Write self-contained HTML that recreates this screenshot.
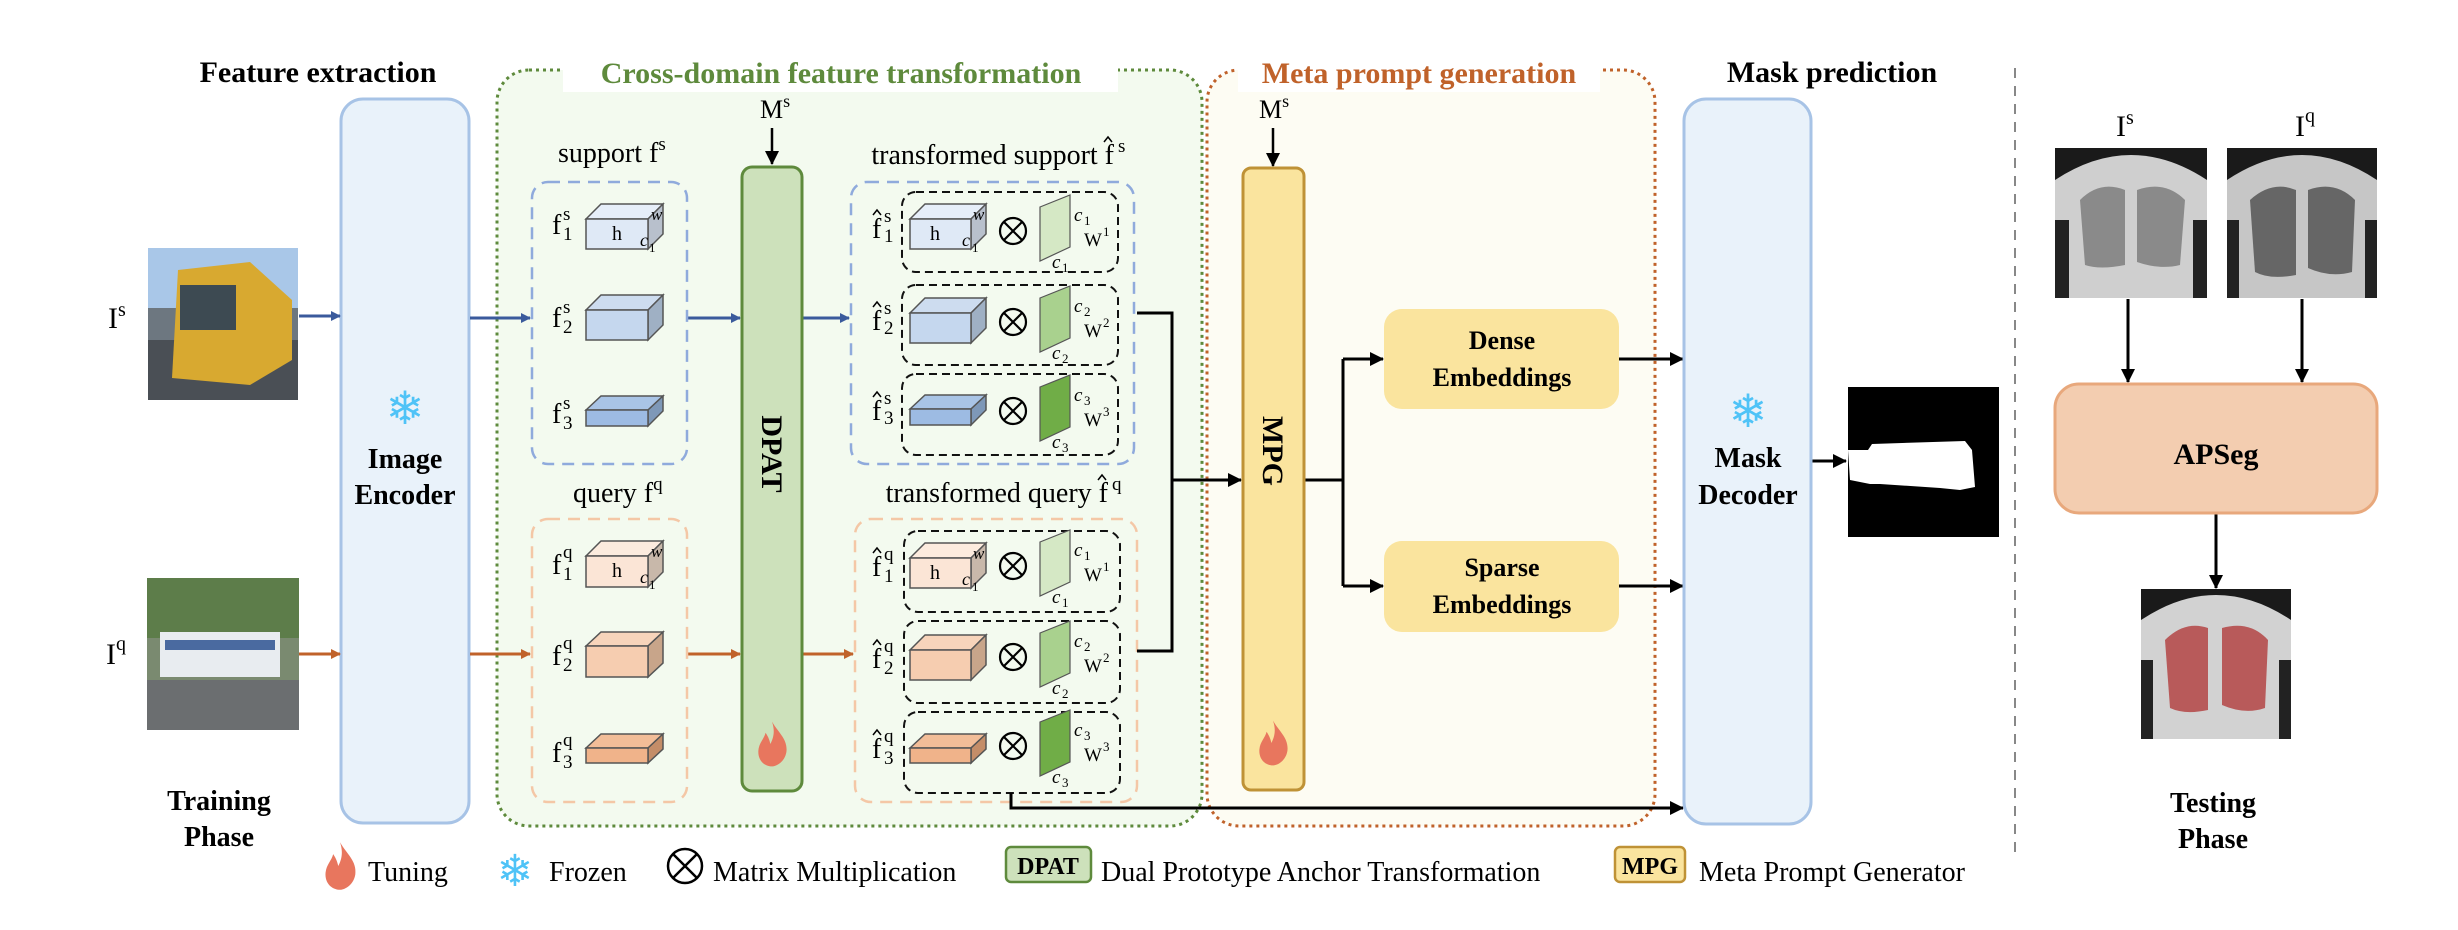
<!DOCTYPE html>
<html><head><meta charset="utf-8"><style>
html,body{margin:0;padding:0;background:#fff;}
svg{display:block;}
svg text{font-family:"Liberation Serif","DejaVu Serif",serif;}
.b{font-weight:bold;}
</style></head><body>
<svg width="2458" height="930" viewBox="0 0 2458 930" xmlns="http://www.w3.org/2000/svg" font-family="Liberation Serif, serif">
<defs>
<marker id="ab" markerWidth="10" markerHeight="10" refX="9" refY="5" orient="auto" markerUnits="userSpaceOnUse" viewBox="0 0 10 10"><path d="M0,0L10,5L0,10z" fill="#3a5a9c"/></marker>
<marker id="ao" markerWidth="10" markerHeight="10" refX="9" refY="5" orient="auto" markerUnits="userSpaceOnUse" viewBox="0 0 10 10"><path d="M0,0L10,5L0,10z" fill="#c0622a"/></marker>
<marker id="ak" markerWidth="14" markerHeight="14" refX="13" refY="7" orient="auto" markerUnits="userSpaceOnUse" viewBox="0 0 14 14"><path d="M0,0L14,7L0,14z" fill="#000"/></marker>
<g id="fire"><path d="M0,-28 C8,-14 20,-6 18,10 C16,22 6,28 0,28 C-10,28 -18,20 -17,8 C-16,-2 -10,-6 -8,-14 C-4,-8 -3,-4 -2,0 C2,-8 4,-16 0,-28z" fill="#e8765e"/></g>
</defs>

<text x="318" y="82" font-size="30" class="b" text-anchor="middle">Feature extraction</text>

<rect x="497" y="70" width="705" height="756" rx="32" fill="#f3faef" stroke="#5e8a3c" stroke-width="3" stroke-dasharray="3,4"/>
<rect x="1207" y="70" width="448" height="756" rx="32" fill="#fdfcf3" stroke="#c0622a" stroke-width="3" stroke-dasharray="3,4"/>
<rect x="563" y="58" width="555" height="34" fill="#fff"/>
<text x="841" y="83" font-size="30" class="b" fill="#5e8a3c" text-anchor="middle">Cross-domain feature transformation</text>
<rect x="1238" y="58" width="362" height="34" fill="#fff"/>
<text x="1419" y="83" font-size="30" class="b" fill="#c0622a" text-anchor="middle">Meta prompt generation</text>
<text x="1832" y="82" font-size="30" class="b" text-anchor="middle">Mask prediction</text>

<rect x="341" y="99" width="128" height="724" rx="22" fill="#e9f2fa" stroke="#a7c3e6" stroke-width="3"/>
<text x="405" y="424" font-size="46" fill="#4fc3f7" text-anchor="middle" style="font-family:'DejaVu Sans',sans-serif">❄</text>
<text x="405" y="468" font-size="28" class="b" text-anchor="middle">Image</text>
<text x="405" y="504" font-size="28" class="b" text-anchor="middle">Encoder</text>

<g>
<rect x="148" y="248" width="150" height="152" fill="#6d7780"/>
<rect x="148" y="248" width="150" height="60" fill="#a9c7e8"/>
<rect x="148" y="340" width="150" height="60" fill="#4a4f55"/>
<polygon points="178,270 250,262 292,300 292,360 250,385 172,378" fill="#d8a930"/>
<rect x="180" y="285" width="56" height="45" fill="#3d4a52"/>
</g>
<text x="108" y="328" font-size="30">I<tspan font-size="20" dy="-12">s</tspan></text>
<g>
<rect x="147" y="578" width="152" height="152" fill="#7a8a70"/>
<rect x="147" y="578" width="152" height="60" fill="#5d7d4a"/>
<rect x="147" y="680" width="152" height="50" fill="#6b6e70"/>
<rect x="160" y="632" width="120" height="45" fill="#e8ecf0"/>
<rect x="165" y="640" width="110" height="10" fill="#4a6aa0"/>
</g>
<text x="106" y="664" font-size="30">I<tspan font-size="20" dy="-14">q</tspan></text>

<g stroke="#3a5a9c" stroke-width="3" fill="none" marker-end="url(#ab)">
<line x1="299" y1="316" x2="340" y2="316"/>
<line x1="470" y1="318" x2="530" y2="318"/>
<line x1="688" y1="318" x2="740" y2="318"/>
<line x1="802" y1="318" x2="849" y2="318"/>
</g>
<g stroke="#c0622a" stroke-width="3" fill="none" marker-end="url(#ao)">
<line x1="299" y1="654" x2="340" y2="654"/>
<line x1="470" y1="654" x2="530" y2="654"/>
<line x1="688" y1="654" x2="740" y2="654"/>
<line x1="802" y1="654" x2="853" y2="654"/>
</g>

<text x="558" y="162" font-size="28">support f<tspan font-size="19" dy="-12">s</tspan></text>
<rect x="532" y="182" width="155" height="282" rx="16" fill="none" stroke="#8faadc" stroke-width="2.5" stroke-dasharray="12,8"/>
<text x="573" y="502" font-size="28">query f<tspan font-size="19" dy="-12">q</tspan></text>
<rect x="532" y="519" width="155" height="283" rx="16" fill="none" stroke="#f4c7a6" stroke-width="2.5" stroke-dasharray="12,8"/>

<g stroke="#555" stroke-width="1.5">
<polygon points="586,219 601,204 663,204 648,219" fill="#e6eef9"/><polygon points="648,219 663,204 663,234 648,249" fill="#b8c0cc"/><rect x="586" y="219" width="62" height="30" fill="#dfe9f6"/>
<polygon points="586,310 601,295 663,295 648,310" fill="#cddcef"/><polygon points="648,310 663,295 663,325 648,340" fill="#9fb0c4"/><rect x="586" y="310" width="62" height="30" fill="#c5d7ee"/>
<polygon points="586,410 601,396 663,396 648,410" fill="#a9c4e6"/><polygon points="648,410 663,396 663,411 648,426" fill="#7e98b8"/><rect x="586" y="410" width="62" height="16" fill="#9dbbe3"/>
<polygon points="586,556 601,541 663,541 648,556" fill="#fcebde"/><polygon points="648,556 663,541 663,572 648,587" fill="#c8b8aa"/><rect x="586" y="556" width="62" height="31" fill="#fbe5d6"/>
<polygon points="586,646 601,632 663,632 648,646" fill="#f7d4bb"/><polygon points="648,646 663,632 663,663 648,677" fill="#c8a58a"/><rect x="586" y="646" width="62" height="31" fill="#f6cdb0"/>
<polygon points="586,748 601,734 663,734 648,748" fill="#f2bd98"/><polygon points="648,748 663,734 663,749 648,763" fill="#c48d68"/><rect x="586" y="748" width="62" height="15" fill="#f0b38a"/>
</g>
<text x="612" y="240" font-size="20">h</text><text x="651" y="220" font-size="17" font-style="italic">w</text><text x="640" y="246" font-size="18" font-style="italic">c</text><text x="649" y="252" font-size="13">1</text>
<text x="612" y="577" font-size="20">h</text><text x="651" y="557" font-size="17" font-style="italic">w</text><text x="640" y="583" font-size="18" font-style="italic">c</text><text x="649" y="589" font-size="13">1</text>

<g font-size="28">
<text x="552" y="234">f</text><text x="552" y="327">f</text><text x="552" y="423">f</text>
<text x="552" y="574">f</text><text x="552" y="665">f</text><text x="552" y="762">f</text>
</g>
<g font-size="19">
<text x="563" y="220">s</text><text x="563" y="240">1</text>
<text x="563" y="313">s</text><text x="563" y="333">2</text>
<text x="563" y="409">s</text><text x="563" y="429">3</text>
<text x="563" y="558">q</text><text x="563" y="580">1</text>
<text x="563" y="649">q</text><text x="563" y="671">2</text>
<text x="563" y="746">q</text><text x="563" y="768">3</text>
</g>

<line x1="772" y1="128" x2="772" y2="164" stroke="#000" stroke-width="2.5" marker-end="url(#ak)"/>
<text x="760" y="118" font-size="26">M<tspan font-size="18" dy="-11">s</tspan></text>
<rect x="742" y="167" width="60" height="624" rx="10" fill="#cde1bb" stroke="#5e8a3c" stroke-width="3"/>
<text transform="translate(772,454) rotate(90)" font-size="30" class="b" text-anchor="middle" dy="10">DPAT</text>
<use href="#fire" transform="translate(772,744) scale(0.8)"/>

<text x="1114" y="164" font-size="28" text-anchor="end">transformed support f</text>
<path d="M1104,142 L1108,137 L1112,142" fill="none" stroke="#000" stroke-width="1.5"/>
<text x="1118" y="152" font-size="19">s</text>
<rect x="851" y="182" width="283" height="282" rx="16" fill="none" stroke="#8faadc" stroke-width="2.5" stroke-dasharray="12,8"/>
<text x="1108" y="502" font-size="28" text-anchor="end">transformed query f</text>
<path d="M1098,480 L1102,475 L1106,480" fill="none" stroke="#000" stroke-width="1.5"/>
<text x="1112" y="490" font-size="19">q</text>
<rect x="855" y="519" width="282" height="283" rx="16" fill="none" stroke="#f4c7a6" stroke-width="2.5" stroke-dasharray="12,8"/>

<g fill="none" stroke="#111" stroke-width="2" stroke-dasharray="8,5">
<rect x="902" y="192" width="216" height="80" rx="14"/>
<rect x="902" y="285" width="216" height="80" rx="14"/>
<rect x="902" y="374" width="216" height="81" rx="14"/>
<rect x="904" y="531" width="216" height="81" rx="14"/>
<rect x="904" y="621" width="216" height="82" rx="14"/>
<rect x="904" y="712" width="216" height="81" rx="14"/>
</g>

<g stroke="#555" stroke-width="1.5">
<polygon points="910,219 925,204 986,204 971,219" fill="#e6eef9"/><polygon points="971,219 986,204 986,234 971,249" fill="#b8c0cc"/><rect x="910" y="219" width="61" height="30" fill="#dfe9f6"/>
<polygon points="910,313 925,298 986,298 971,313" fill="#cddcef"/><polygon points="971,313 986,298 986,328 971,343" fill="#9fb0c4"/><rect x="910" y="313" width="61" height="30" fill="#c5d7ee"/>
<polygon points="910,409 925,395 986,395 971,409" fill="#a9c4e6"/><polygon points="971,409 986,395 986,410 971,425" fill="#7e98b8"/><rect x="910" y="409" width="61" height="16" fill="#9dbbe3"/>
<polygon points="910,558 925,543 986,543 971,558" fill="#fcebde"/><polygon points="971,558 986,543 986,573 971,588" fill="#c8b8aa"/><rect x="910" y="558" width="61" height="30" fill="#fbe5d6"/>
<polygon points="910,650 925,635 986,635 971,650" fill="#f7d4bb"/><polygon points="971,650 986,635 986,665 971,680" fill="#c8a58a"/><rect x="910" y="650" width="61" height="30" fill="#f6cdb0"/>
<polygon points="910,748 925,734 986,734 971,748" fill="#f2bd98"/><polygon points="971,748 986,734 986,749 971,763" fill="#c48d68"/><rect x="910" y="748" width="61" height="15" fill="#f0b38a"/>
</g>
<text x="930" y="240" font-size="20">h</text><text x="973" y="220" font-size="17" font-style="italic">w</text><text x="962" y="246" font-size="18" font-style="italic">c</text><text x="972" y="252" font-size="13">1</text>
<text x="930" y="579" font-size="20">h</text><text x="973" y="559" font-size="17" font-style="italic">w</text><text x="962" y="585" font-size="18" font-style="italic">c</text><text x="972" y="591" font-size="13">1</text>

<g font-size="28">
<text x="872" y="238">f</text><text x="872" y="330">f</text><text x="872" y="420">f</text>
<text x="872" y="576">f</text><text x="872" y="668">f</text><text x="872" y="758">f</text>
</g>
<g fill="none" stroke="#000" stroke-width="1.5">
<path d="M873,215 L877,210 L881,215"/><path d="M873,307 L877,302 L881,307"/><path d="M873,397 L877,392 L881,397"/>
<path d="M873,553 L877,548 L881,553"/><path d="M873,645 L877,640 L881,645"/><path d="M873,735 L877,730 L881,735"/>
</g>
<g font-size="19">
<text x="884" y="222">s</text><text x="884" y="242">1</text>
<text x="884" y="314">s</text><text x="884" y="334">2</text>
<text x="884" y="404">s</text><text x="884" y="424">3</text>
<text x="884" y="560">q</text><text x="884" y="582">1</text>
<text x="884" y="652">q</text><text x="884" y="674">2</text>
<text x="884" y="742">q</text><text x="884" y="764">3</text>
</g>

<g fill="none" stroke="#000" stroke-width="2.2">
<circle cx="1013" cy="231" r="13"/><path d="M1004,222L1022,240M1022,222L1004,240"/>
<circle cx="1013" cy="322" r="13"/><path d="M1004,313L1022,331M1022,313L1004,331"/>
<circle cx="1013" cy="411" r="13"/><path d="M1004,402L1022,420M1022,402L1004,420"/>
<circle cx="1013" cy="566" r="13"/><path d="M1004,557L1022,575M1022,557L1004,575"/>
<circle cx="1013" cy="657" r="13"/><path d="M1004,648L1022,666M1022,648L1004,666"/>
<circle cx="1013" cy="746" r="13"/><path d="M1004,737L1022,755M1022,737L1004,755"/>
</g>
<g stroke="#555" stroke-width="1.2">
<polygon points="1040,207 1070,195 1070,247 1040,261" fill="#d5e8c5"/>
<polygon points="1040,298 1070,286 1070,338 1040,352" fill="#a9d18e"/>
<polygon points="1040,387 1070,375 1070,427 1040,441" fill="#70ad47"/>
<polygon points="1040,542 1070,530 1070,582 1040,596" fill="#d5e8c5"/>
<polygon points="1040,633 1070,621 1070,673 1040,687" fill="#a9d18e"/>
<polygon points="1040,722 1070,710 1070,762 1040,776" fill="#70ad47"/>
</g>
<g font-size="19">
<g font-style="italic">
<text x="1074" y="221">c</text><text x="1052" y="268">c</text>
<text x="1074" y="312">c</text><text x="1052" y="359">c</text>
<text x="1074" y="401">c</text><text x="1052" y="448">c</text>
<text x="1074" y="556">c</text><text x="1052" y="603">c</text>
<text x="1074" y="647">c</text><text x="1052" y="694">c</text>
<text x="1074" y="736">c</text><text x="1052" y="783">c</text>
</g>
<text x="1084" y="246">W</text><text x="1084" y="337">W</text><text x="1084" y="426">W</text>
<text x="1084" y="581">W</text><text x="1084" y="672">W</text><text x="1084" y="761">W</text>
</g>
<g font-size="13">
<text x="1084" y="225">1</text><text x="1062" y="272">1</text><text x="1103" y="236">1</text>
<text x="1084" y="316">2</text><text x="1062" y="363">2</text><text x="1103" y="327">2</text>
<text x="1084" y="405">3</text><text x="1062" y="452">3</text><text x="1103" y="416">3</text>
<text x="1084" y="560">1</text><text x="1062" y="607">1</text><text x="1103" y="571">1</text>
<text x="1084" y="651">2</text><text x="1062" y="698">2</text><text x="1103" y="662">2</text>
<text x="1084" y="740">3</text><text x="1062" y="787">3</text><text x="1103" y="751">3</text>
</g>

<g fill="none" stroke="#000" stroke-width="3">
<polyline points="1137,313 1172,313 1172,651 1137,651"/>
<line x1="1172" y1="480" x2="1241" y2="480" marker-end="url(#ak)"/>
<polyline points="1011,793 1011,808 1683,808" marker-end="url(#ak)"/>
<line x1="1304" y1="480" x2="1343" y2="480"/>
<polyline points="1343,359 1343,586"/>
<line x1="1343" y1="359" x2="1383" y2="359" marker-end="url(#ak)"/>
<line x1="1343" y1="586" x2="1383" y2="586" marker-end="url(#ak)"/>
<line x1="1619" y1="359" x2="1683" y2="359" marker-end="url(#ak)"/>
<line x1="1619" y1="586" x2="1683" y2="586" marker-end="url(#ak)"/>
<line x1="1811" y1="461" x2="1846" y2="461" marker-end="url(#ak)"/>
</g>

<line x1="1273" y1="128" x2="1273" y2="166" stroke="#000" stroke-width="2.5" marker-end="url(#ak)"/>
<text x="1259" y="118" font-size="26">M<tspan font-size="18" dy="-11">s</tspan></text>
<rect x="1243" y="168" width="61" height="622" rx="8" fill="#fae49e" stroke="#bf9236" stroke-width="3"/>
<text transform="translate(1273,451) rotate(90)" font-size="30" class="b" text-anchor="middle" dy="10">MPG</text>
<use href="#fire" transform="translate(1273,743) scale(0.8)"/>

<rect x="1384" y="309" width="235" height="100" rx="18" fill="#fae49e"/>
<text x="1502" y="349" font-size="26" class="b" text-anchor="middle">Dense</text>
<text x="1502" y="386" font-size="26" class="b" text-anchor="middle">Embeddings</text>
<rect x="1384" y="541" width="235" height="91" rx="18" fill="#fae49e"/>
<text x="1502" y="576" font-size="26" class="b" text-anchor="middle">Sparse</text>
<text x="1502" y="613" font-size="26" class="b" text-anchor="middle">Embeddings</text>

<rect x="1684" y="99" width="127" height="725" rx="22" fill="#e9f2fa" stroke="#a7c3e6" stroke-width="3"/>
<text x="1748" y="427" font-size="46" fill="#4fc3f7" text-anchor="middle" style="font-family:'DejaVu Sans',sans-serif">❄</text>
<text x="1748" y="467" font-size="28" class="b" text-anchor="middle">Mask</text>
<text x="1748" y="504" font-size="28" class="b" text-anchor="middle">Decoder</text>

<rect x="1848" y="387" width="151" height="150" fill="#000"/>
<polygon points="1848,450 1868,450 1872,444 1965,441 1972,450 1975,487 1960,490 1940,488 1880,484 1870,484 1850,480" fill="#fff"/>

<line x1="2015" y1="68" x2="2015" y2="855" stroke="#888" stroke-width="2" stroke-dasharray="10,8"/>

<text x="2116" y="136" font-size="30">I<tspan font-size="20" dy="-12">s</tspan></text>
<text x="2295" y="136" font-size="30">I<tspan font-size="20" dy="-14">q</tspan></text>
<g>
<rect x="2055" y="148" width="152" height="150" fill="#1a1a1a"/>
<path d="M2055,180 Q2131,130 2207,180 L2207,298 L2055,298z" fill="#cfcfcf"/>
<path d="M2080,200 Q2100,180 2125,190 L2125,265 Q2100,270 2085,265z" fill="#8a8a8a"/>
<path d="M2137,190 Q2165,180 2185,200 L2180,265 Q2160,270 2137,262z" fill="#8a8a8a"/>
<rect x="2055" y="220" width="14" height="78" fill="#222"/><rect x="2193" y="220" width="14" height="78" fill="#222"/>
</g>
<g>
<rect x="2227" y="148" width="150" height="150" fill="#1a1a1a"/>
<path d="M2227,180 Q2302,130 2377,180 L2377,298 L2227,298z" fill="#c6c6c6"/>
<path d="M2250,200 Q2272,180 2296,190 L2296,275 Q2270,280 2255,272z" fill="#666"/>
<path d="M2308,190 Q2335,180 2355,200 L2352,272 Q2330,278 2308,268z" fill="#666"/>
<rect x="2227" y="220" width="12" height="78" fill="#222"/><rect x="2365" y="220" width="12" height="78" fill="#222"/>
</g>
<g stroke="#000" stroke-width="3" fill="none">
<line x1="2128" y1="299" x2="2128" y2="382" marker-end="url(#ak)"/>
<line x1="2302" y1="299" x2="2302" y2="382" marker-end="url(#ak)"/>
<line x1="2216" y1="514" x2="2216" y2="588" marker-end="url(#ak)"/>
</g>
<rect x="2055" y="384" width="322" height="129" rx="24" fill="#f3cdb0" stroke="#e8a87c" stroke-width="3"/>
<text x="2216" y="464" font-size="30" class="b" text-anchor="middle">APSeg</text>
<g>
<rect x="2141" y="589" width="150" height="150" fill="#1a1a1a"/>
<path d="M2141,620 Q2216,570 2291,620 L2291,739 L2141,739z" fill="#d2d2d2"/>
<path d="M2165,640 Q2185,620 2208,628 L2208,710 Q2185,715 2170,708z" fill="#b85a5a"/>
<path d="M2222,628 Q2250,620 2268,640 L2265,708 Q2245,715 2222,705z" fill="#b85a5a"/>
<rect x="2141" y="660" width="12" height="79" fill="#222"/><rect x="2279" y="660" width="12" height="79" fill="#222"/>
</g>
<text x="2213" y="812" font-size="28" class="b" text-anchor="middle">Testing</text>
<text x="2213" y="848" font-size="28" class="b" text-anchor="middle">Phase</text>

<text x="219" y="810" font-size="28" class="b" text-anchor="middle">Training</text>
<text x="219" y="846" font-size="28" class="b" text-anchor="middle">Phase</text>

<use href="#fire" transform="translate(340,866) scale(0.85)"/>
<text x="368" y="881" font-size="28">Tuning</text>
<text x="515" y="886" font-size="44" fill="#4fc3f7" text-anchor="middle" style="font-family:'DejaVu Sans',sans-serif">❄</text>
<text x="549" y="881" font-size="28">Frozen</text>
<circle cx="685" cy="866" r="17" fill="none" stroke="#000" stroke-width="2.5"/>
<path d="M673,854L697,878M697,854L673,878" stroke="#000" stroke-width="2.5"/>
<text x="713" y="881" font-size="28">Matrix Multiplication</text>
<rect x="1006" y="847" width="85" height="35" rx="5" fill="#cde1bb" stroke="#5e8a3c" stroke-width="2.5"/>
<text x="1048" y="874" font-size="24" class="b" text-anchor="middle">DPAT</text>
<text x="1101" y="881" font-size="28">Dual Prototype Anchor Transformation</text>
<rect x="1615" y="847" width="70" height="35" rx="5" fill="#fae49e" stroke="#bf9236" stroke-width="2.5"/>
<text x="1650" y="874" font-size="24" class="b" text-anchor="middle">MPG</text>
<text x="1699" y="881" font-size="28">Meta Prompt Generator</text>
</svg>
</body></html>
